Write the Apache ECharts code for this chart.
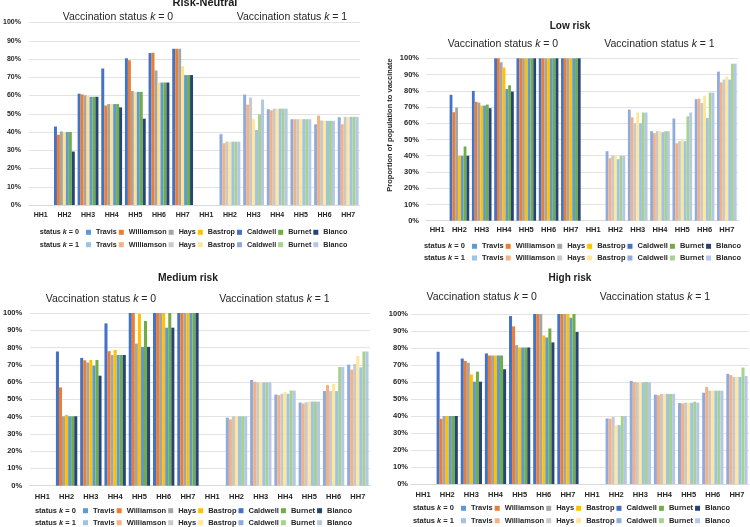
<!DOCTYPE html>
<html>
<head>
<meta charset="utf-8">
<script src="https://cdn.jsdelivr.net/npm/echarts@6/dist/echarts.min.js"></script>
<style>html,body{margin:0;padding:0;background:#fff}#c{width:750px;height:527px}</style>
</head>
<body>
<div id="c"></div>
<script>
// ---------- DATA ----------
const households = ['HH1','HH2','HH3','HH4','HH5','HH6','HH7'];
const legendCounties = ['Travis','Williamson','Hays','Bastrop','Caldwell','Burnet','Blanco'];
// order of the bars inside each household group
const barCounties = ['Caldwell','Williamson','Hays','Bastrop','Travis','Burnet','Blanco'];
const yTicks = [0,10,20,30,40,50,60,70,80,90,100];
const panelTitles = ['Risk-Neutral','Low risk','Medium risk','High risk'];

// rows = HH2..HH7 (HH1 has no value), columns = barCounties order, in %
const riskNeutralK0 = [
  [43.0,38.5,40.3,40.0,40.0,40.0,29.3],
  [61.0,60.6,60.1,59.6,59.3,59.3,59.3],
  [74.8,54.5,55.3,55.3,55.3,55.3,53.5],
  [80.4,79.3,62.4,62.0,62.0,62.0,47.3],
  [83.3,83.4,73.7,67.1,67.1,67.1,67.1],
  [85.6,85.6,85.6,76.0,71.2,71.2,71.2]
];
const riskNeutralK1 = [
  [38.8,33.8,34.7,34.7,34.7,34.7,34.7],
  [60.5,55.0,58.9,47.0,41.1,49.7,57.8],
  [52.5,51.9,52.8,52.8,52.8,52.8,52.8],
  [47.0,47.0,47.0,47.0,47.0,47.0,47.0],
  [44.2,49.0,46.3,46.1,46.1,46.1,46.1],
  [48.1,44.2,48.3,48.3,48.3,48.3,48.3]
];
const lowRiskK0 = [
  [77.5,66.8,69.7,40.0,40.0,45.7,40.0],
  [79.9,73.2,72.7,70.9,70.9,71.5,69.3],
  [100,100,97.5,94.3,81.1,83.4,79.5],
  [100,100,100,100,100,100,100],
  [100,100,100,100,100,100,100],
  [100,100,100,100,100,100,100]
];
const lowRiskK1 = [
  [42.8,38.5,40.0,40.0,37.9,40.0,40.0],
  [68.4,63.7,60.0,66.6,60.0,66.6,66.6],
  [55.1,53.9,55.1,55.1,54.5,55.1,55.1],
  [62.9,47.7,49.0,49.6,49.0,64.3,66.6],
  [74.8,75.2,72.5,77.0,63.3,78.9,78.9],
  [91.8,85.2,86.9,88.7,86.9,96.7,96.7]
];
const mediumRiskK0 = [
  [77.7,56.9,40.2,41.0,40.2,40.2,40.2],
  [74.0,72.6,71.3,72.8,69.5,72.8,63.7],
  [94.0,77.9,75.7,78.6,75.7,75.7,75.7],
  [100,100,82.3,99.6,80.4,95.3,80.4],
  [100,100,100,100,91.5,100,91.5],
  [100,100,100,100,100,100,100]
];
const mediumRiskK1 = [
  [39.4,38.4,40.2,40.2,40.2,40.2,40.2],
  [61.2,60.2,59.8,59.8,59.8,59.8,59.8],
  [52.8,52.4,53.2,54.2,53.2,55.1,55.1],
  [48.2,47.6,48.3,48.7,48.7,48.7,48.7],
  [54.8,58.3,54.8,59.0,54.8,68.7,68.7],
  [70.1,67.2,70.5,75.1,68.5,77.7,77.7]
];
const highRiskK0 = [
  [77.8,38.4,40.0,40.0,40.0,40.0,40.0],
  [73.8,72.4,71.3,64.4,60.2,66.1,60.2],
  [76.8,75.6,75.6,75.6,75.6,75.6,67.5],
  [98.8,92.7,81.7,80.3,80.3,80.3,80.3],
  [100,100,100,87.4,86.2,91.5,83.3],
  [100,100,100,100,97.8,100,89.4]
];
const highRiskK1 = [
  [38.6,38.4,39.6,34.6,34.6,40.0,40.0],
  [60.6,60.0,59.8,59.8,59.8,60.0,59.8],
  [52.6,52.2,53.0,53.0,53.0,53.0,53.0],
  [47.6,47.4,47.8,47.8,47.8,48.4,47.8],
  [53.7,57.1,54.9,54.9,54.9,54.9,54.9],
  [64.8,64.0,63.0,63.0,63.0,68.5,63.6]
];

// ---------- STYLE ----------
const FONT = '"Liberation Sans", Arial, sans-serif';
const TXT = '#262626';
const darkColors = {Travis:'#5B9BD5',Williamson:'#ED7D31',Hays:'#A5A5A5',Bastrop:'#FFC000',Caldwell:'#4472C4',Burnet:'#70AD47',Blanco:'#264478'};
const lightColors = {Travis:'#9DC3E6',Williamson:'#F4B183',Hays:'#C9C9C9',Bastrop:'#FFE699',Caldwell:'#8FAADC',Burnet:'#A9D18E',Blanco:'#B4C7E7'};

const panelData = [
  [riskNeutralK0, riskNeutralK1],
  [lowRiskK0, lowRiskK1],
  [mediumRiskK0, mediumRiskK1],
  [highRiskK0, highRiskK1]
];
const layouts = [
  {title:[205,3], tsize:11, sub0:[118,17.5], sub1:[292,17.5], grid:{left:28,top:22.5,width:332,height:182.5}, tick:7, ym:8, xm:7, legLeft:86, rows:[232.3,244.7], legFont:7.2, gap:2},
  {title:[570,26.3], tsize:10, sub0:[503,44.5], sub1:[659.5,44.5], grid:{left:426,top:58.3,width:312,height:162.4}, tick:7.5, ym:7, xm:5, legLeft:472, rows:[246.3,258], legFont:7.5, gap:2},
  {title:[188,278.3], tsize:10.3, sub0:[101,299.5], sub1:[274.5,299.5], grid:{left:30,top:313,width:340,height:172.7}, tick:7.5, ym:8, xm:7, legLeft:83, rows:[510.7,522.7], legFont:7.5, gap:2},
  {title:[570,278], tsize:10, sub0:[481.7,297], sub1:[655,297], grid:{left:411,top:314,width:338,height:170}, tick:7.5, ym:3, xm:7, legLeft:461, rows:[508.3,520.7], legFont:7.5, gap:2}
];

const categories = households.map(h => h + '|0').concat(households.map(h => h + '|1'));

const grids = [], xAxes = [], yAxes = [], series = [], legends = [], graphics = [], titles = [];

layouts.forEach((L, p) => {
  grids.push(Object.assign({containLabel:false}, L.grid));
  xAxes.push({
    type:'category', gridIndex:p, data:categories,
    axisTick:{show:false},
    axisLine:{lineStyle:{color:'#D9D9D9', width:1}},
    axisLabel:{interval:0, margin:L.xm, formatter:v => v.split('|')[0], fontSize:L.tick, fontWeight:'bold', color:TXT, fontFamily:FONT}
  });
  yAxes.push({
    type:'value', gridIndex:p, min:yTicks[0], max:yTicks[yTicks.length-1], interval:yTicks[1]-yTicks[0],
    axisLine:{show:false}, axisTick:{show:false},
    splitLine:{lineStyle:{color:'#E3E3E3', width:1}},
    axisLabel:{formatter:'{value}%', margin:L.ym, fontSize:L.tick, fontWeight:'bold', color:TXT, fontFamily:FONT}
  });

  const [k0, k1] = panelData[p];
  barCounties.forEach((c, s) => {
    const v0 = [null].concat(k0.map(r => r[s]));
    const v1 = [null].concat(k1.map(r => r[s]));
    const nulls = households.map(() => null);
    let c0 = darkColors[c];
    if (p === 0 && c === 'Bastrop') c0 = '#FFE08C';
    series.push({
      name: c + '|p' + p + '|0', type:'bar', xAxisIndex:p, yAxisIndex:p, stack:'p'+p+'s'+s,
      data: v0.concat(nulls), itemStyle:{color:c0}, barCategoryGap:'12%', barGap:'0%', silent:true
    });
    series.push({
      name: c + '|p' + p + '|1', type:'bar', xAxisIndex:p, yAxisIndex:p, stack:'p'+p+'s'+s,
      data: nulls.concat(v1), itemStyle:{color:lightColors[c]}, barCategoryGap:'12%', barGap:'0%', silent:true
    });
  });

  [0,1].forEach(k => {
    legends.push({
      left:L.legLeft, top:L.rows[k]-4.5, padding:0, orient:'horizontal',
      icon:'rect', itemWidth:5, itemHeight:5, itemGap:L.gap,
      selectedMode:false,
      data: legendCounties.map(c => ({name: c + '|p' + p + '|' + k, itemStyle:{color:(k===0?darkColors:lightColors)[c]}})),
      formatter: n => n.split('|')[0],
      textStyle:{fontSize:L.legFont, fontWeight:'bold', color:TXT, fontFamily:FONT, lineHeight:9}
    });
    graphics.push({
      type:'text', x:L.legLeft-7, y:L.rows[k], silent:true,
      style:{text:'status {i|k} = ' + k, align:'right', verticalAlign:'middle', fill:TXT,
        font:'bold ' + L.legFont + 'px ' + FONT,
        rich:{i:{fontStyle:'italic', fontWeight:'bold', fontSize:L.legFont, fontFamily:FONT, fill:TXT}}}
    });
    const sp = k === 0 ? L.sub0 : L.sub1;
    graphics.push({
      type:'text', x:sp[0], y:sp[1], silent:true,
      style:{text:'Vaccination status {i|k} = ' + k, align:'center', verticalAlign:'middle', fill:TXT,
        font:'10.5px ' + FONT,
        rich:{i:{fontStyle:'italic', fontSize:10.5, fontFamily:FONT, fill:TXT}}}
    });
  });
  graphics.push({
    type:'text', x:L.title[0], y:L.title[1], silent:true,
    style:{text:panelTitles[p], align:'center', verticalAlign:'middle', fill:'#1a1a1a', font:'bold ' + L.tsize + 'px ' + FONT}
  });
});

graphics.push({
  type:'text', x:390, y:125, rotation:Math.PI/2, silent:true,
  style:{text:'Proportion of population to vaccinate', align:'center', verticalAlign:'middle', fill:TXT, font:'bold 7.5px ' + FONT}
});

const chart = echarts.init(document.getElementById('c'), null, {renderer:'canvas'});
chart.setOption({
  animation:false,
  backgroundColor:'#ffffff',
  grid:grids, xAxis:xAxes, yAxis:yAxes, legend:legends, series:series, graphic:graphics
});
</script>
</body>
</html>
